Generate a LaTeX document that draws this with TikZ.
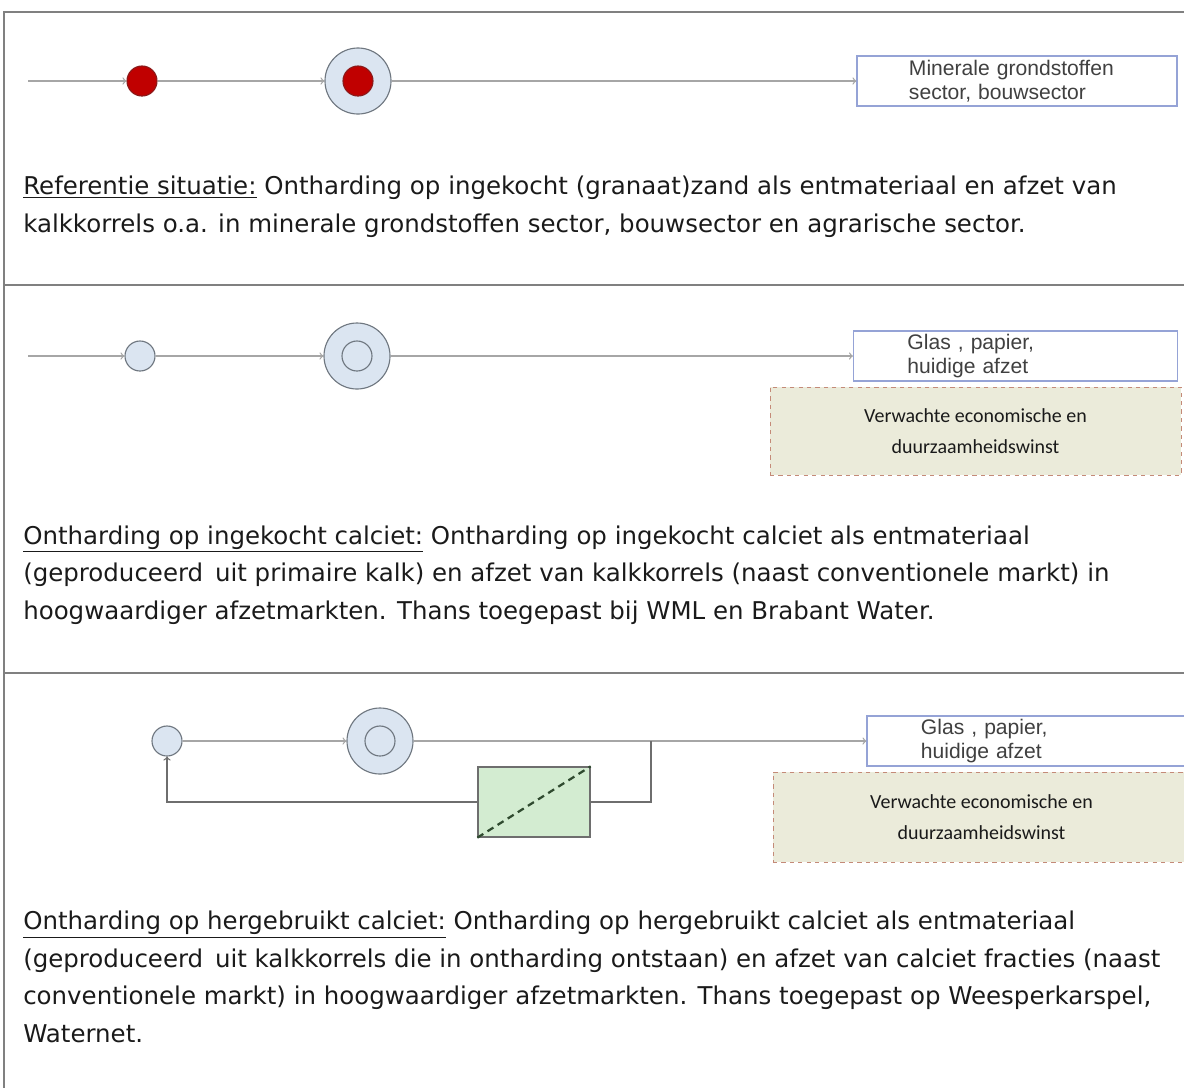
\documentclass[tikz,border=0pt]{standalone}
\usepackage{fontspec}
\setmainfont{DejaVu Sans}
\newfontfamily\boxfont{Liberation Sans}
\newfontfamily\notefont{Carlito}
\usetikzlibrary{positioning}

\definecolor{framegray}{HTML}{808080}
\definecolor{flowgray}{HTML}{A6A6A6}
\definecolor{loopgray}{HTML}{6E6E6E}
\definecolor{ringfill}{HTML}{DBE5F1}
\definecolor{ringline}{HTML}{6F7780}
\definecolor{kalkred}{HTML}{C00000}
\definecolor{kalkline}{HTML}{8B1A1A}
\definecolor{outline}{HTML}{95A3D6}
\definecolor{notefill}{HTML}{EBEBDA}
\definecolor{noteline}{HTML}{C48A78}
\definecolor{filterfill}{HTML}{D3ECD1}
\definecolor{filterline}{HTML}{2F4A2F}
\definecolor{textdark}{HTML}{1A1A1A}

\begin{document}
\begin{tikzpicture}[
  x=0.025cm, y=-0.025cm,
  every node/.style={
    inner sep=0pt,
  },
  frame/.style={
    draw=framegray,
    line width=1.4pt,
  },
  flow/.style={
    draw=flowgray,
    line width=0.9pt,
    ->,
  },
  feedback/.style={
    draw=loopgray,
    line width=0.9pt,
  },
  seed/.style={
    circle,
    draw=ringline,
    fill=ringfill,
    line width=0.8pt,
    minimum size=0.75cm,
  },
  reddot/.style={
    seed,
    draw=kalkline,
    fill=kalkred,
  },
  ring/.style={
    seed,
    minimum size=1.65cm,
  },
  market/.style={
    draw=outline,
    line width=0.8pt,
    minimum height=1.25cm,
    text width=5.4cm,
    align=left,
    font=\boxfont\fontsize{15}{17}\selectfont,
    text=black!75,
  },
  gain/.style={
    draw=noteline,
    dashed,
    fill=notefill,
    line width=0.6pt,
    align=center,
    font=\notefont\fontsize{14.2}{22}\selectfont,
    text=textdark,
  },
  para/.style={
    anchor=base west,
    align=left,
    font=\fontsize{17.4}{26.6}\selectfont,
    text=textdark,
  },
]
\useasboundingbox (0,0) rectangle (1184,1088);

% frame and dividers
\draw[frame] (1184,12) -- (4,12) -- (4,1088);
\draw[frame] (4,285) -- (1184,285);
\draw[frame] (4,673) -- (1184,673);

% Referentie situatie
\coordinate (in1) at (28,81);
\node[reddot] (dot1) at (142,81) {};
\node[ring] (ring1) at (358,81) {};
\node[reddot] (core1) at (ring1) {};
\node[market, inner xsep=1.3cm] (out1) at (1017,81)
  {Minerale grondstoffen\\sector, bouwsector};
\draw[flow] (in1) -- (dot1);
\draw[flow] (dot1) -- (ring1);
\draw[flow] (ring1) -- (out1);
\node[para] (text1) at (23,232)
  {\underline{Referentie situatie:} Ontharding op ingekocht (granaat)zand als entmateriaal en afzet van\\
   kalkkorrels o.a. in minerale grondstoffen sector, bouwsector en agrarische sector.};

% Ontharding op ingekocht calciet
\coordinate (in2) at (28,356);
\node[seed] (dot2) at (140,356) {};
\node[ring] (ring2) at (357,356) {};
\node[seed] (core2) at (ring2) {};
\node[market, inner xsep=1.35cm] (out2) at (1015.5,356)
  {Glas , papier,\\huidige afzet};
\node[gain, minimum width=10.275cm, minimum height=2.2cm] (gain2) at (975.5,431)
  {Verwachte economische en\\duurzaamheidswinst};
\draw[flow] (in2) -- (dot2);
\draw[flow] (dot2) -- (ring2);
\draw[flow] (ring2) -- (out2);
\node[para] (text2) at (23,619)
  {\underline{Ontharding op ingekocht calciet:} Ontharding op ingekocht calciet als entmateriaal\\
   (geproduceerd\, uit primaire kalk) en afzet van kalkkorrels (naast conventionele markt) in\\
   hoogwaardiger afzetmarkten. Thans toegepast bij WML en Brabant Water.};

% Ontharding op hergebruikt calciet
\node[seed] (dot3) at (167,741) {};
\node[ring] (ring3) at (380,741) {};
\node[seed] (core3) at (ring3) {};
\node[market, inner xsep=1.35cm, minimum width=8.05cm] (out3) at (1029,741)
  {Glas , papier,\\huidige afzet};
\node[gain, minimum width=10.425cm, minimum height=2.25cm] (gain3) at (981.5,817)
  {Verwachte economische en\\duurzaamheidswinst};
\node[draw=loopgray, fill=filterfill, line width=0.9pt,
      minimum width=2.8cm, minimum height=1.75cm] (filter) at (534,802) {};
\draw[filterline, line width=1.6pt, dashed, dash pattern=on 5pt off 3.5pt]
  (filter.south west) -- (filter.north east);
\coordinate (split) at (651,741);
\draw[flow] (dot3) -- (ring3);
\draw[flow] (ring3) -- (out3);
\draw[feedback] (split) |- (filter.east);
\draw[feedback, ->] (filter.west) -| (dot3.south);
\node[para] (text3) at (23,1042)
  {\underline{Ontharding op hergebruikt calciet:} Ontharding op hergebruikt calciet als entmateriaal\\
   (geproduceerd\, uit kalkkorrels die in ontharding ontstaan) en afzet van calciet fracties (naast\\
   conventionele markt) in hoogwaardiger afzetmarkten. Thans toegepast op Weesperkarspel,\\
   Waternet.};
\end{tikzpicture}
\end{document}
